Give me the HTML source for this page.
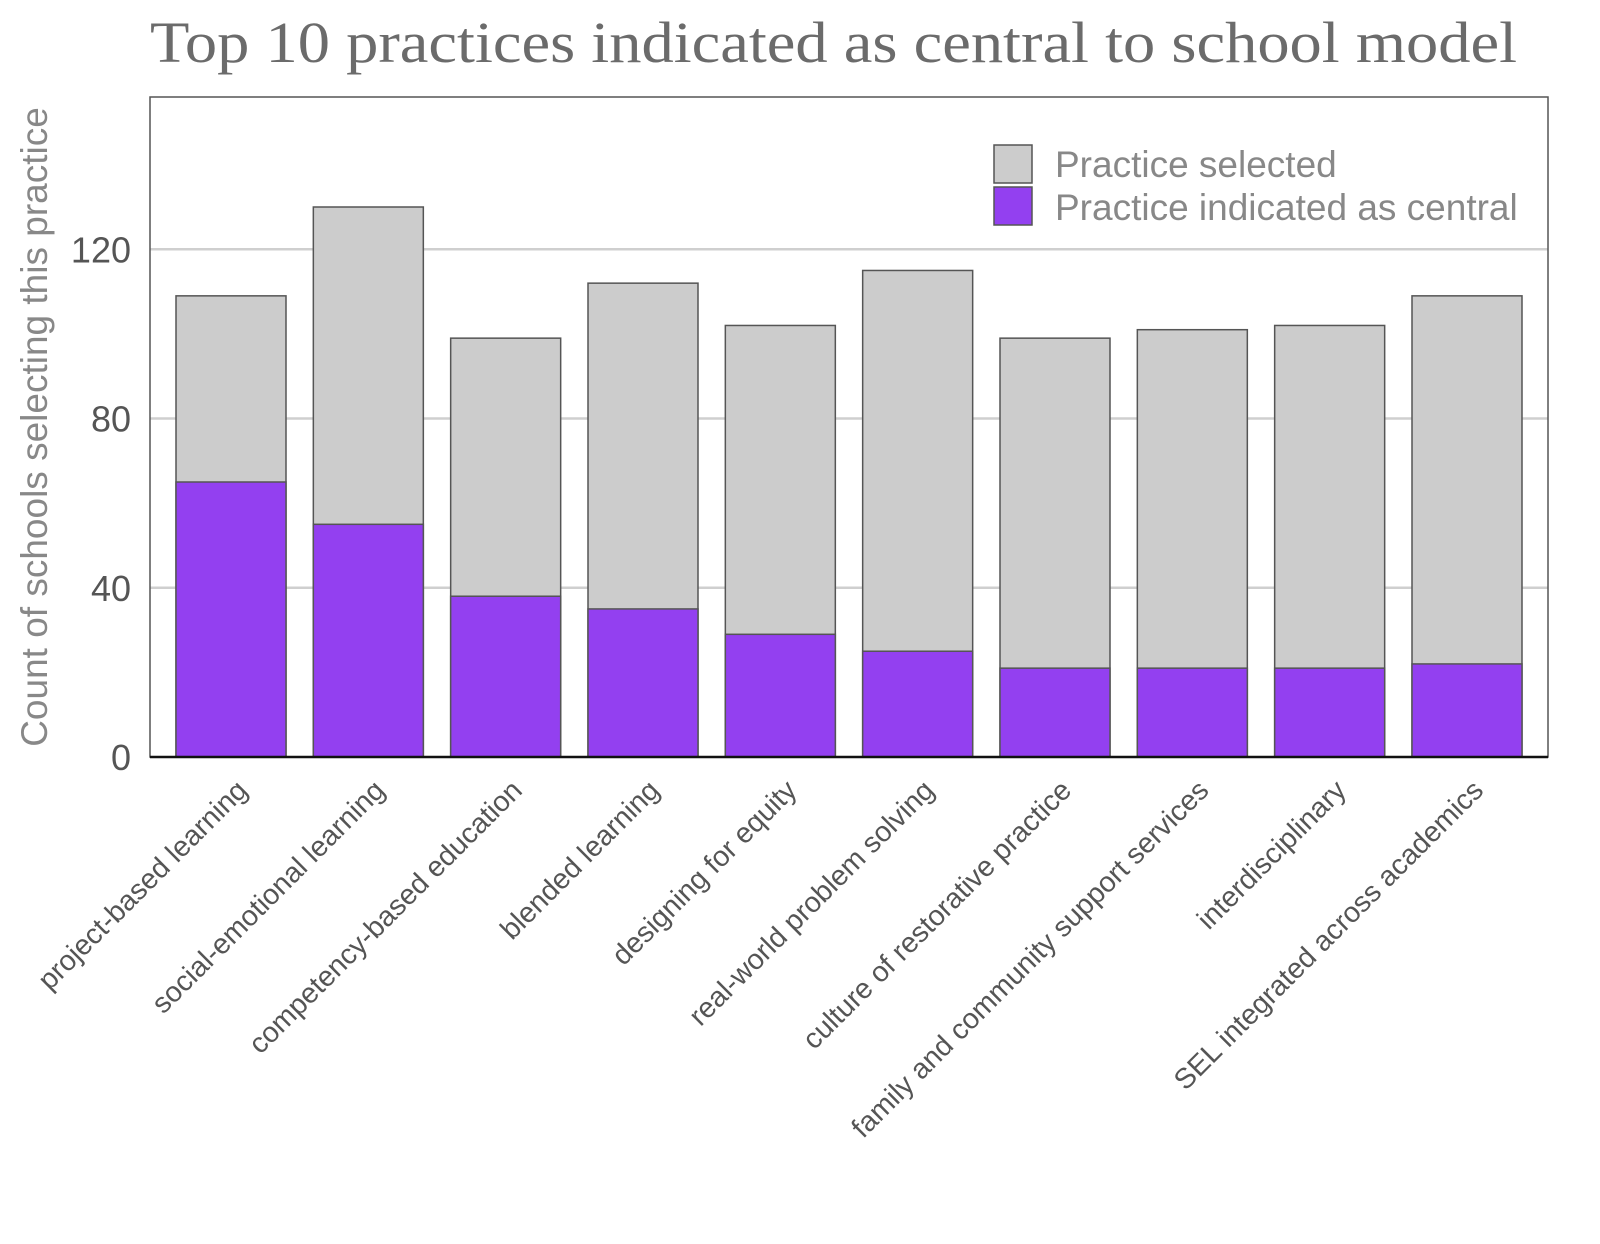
<!DOCTYPE html>
<html><head><meta charset="utf-8"><style>
html,body{margin:0;padding:0;background:#fff;}
svg{display:block;}
</style></head><body>
<svg id="chart" width="1600" height="1244" viewBox="0 0 1600 1244" xmlns="http://www.w3.org/2000/svg">
<text x="150" y="62" textLength="1367" lengthAdjust="spacingAndGlyphs" font-family="Liberation Serif, serif" font-size="58" fill="#6b6b6b">Top 10 practices indicated as central to school model</text>
<g id="grid"></g>
<g id="bars"></g>
<rect x="150" y="97" width="1398" height="660" fill="none" stroke="#555" stroke-width="1.5"/>
<line x1="150" y1="757" x2="1548" y2="757" stroke="#111" stroke-width="2.5"/>
<g id="yticks"></g>
<g id="xlabels"></g>
<text transform="translate(47,427) rotate(-90)" text-anchor="middle" font-family="Liberation Sans, sans-serif" font-size="37" fill="#888">Count of schools selecting this practice</text>
<g>
<rect x="994" y="145" width="38" height="38" fill="#cccccc" stroke="#555" stroke-width="1.5"/>
<text x="1055" y="177" font-family="Liberation Sans, sans-serif" font-size="37" fill="#888">Practice selected</text>
<rect x="994" y="187" width="38" height="38" fill="#9340f0" stroke="#555" stroke-width="1.5"/>
<text x="1055" y="220" font-family="Liberation Sans, sans-serif" font-size="37" fill="#888">Practice indicated as central</text>
</g>
</svg>
<script>
const categories = ["project-based learning","social-emotional learning","competency-based education","blended learning","designing for equity","real-world problem solving","culture of restorative practice","family and community support services","interdisciplinary","SEL integrated across academics"];
const selectedValues = [109,130,99,112,102,115,99,101,102,109];
const centralValues = [65,55,38,35,29,25,21,21,21,22];
const yTicks = [0,40,80,120];

const NS = "http://www.w3.org/2000/svg";
const plotL = 150, plotR = 1548, plotT = 97, plotB = 757, yMax = 156;
const pad = 26, barW = 110;
const step = (plotR - plotL - 2*pad - barW) / (categories.length - 1);
function y(v){ return plotB - v / yMax * (plotB - plotT); }
function xLeft(i){ return plotL + pad + i * step; }
function mk(tag, attrs, parent){ const e = document.createElementNS(NS, tag); for (const k in attrs) e.setAttribute(k, attrs[k]); parent.appendChild(e); return e; }

const grid = document.getElementById('grid');
const yt = document.getElementById('yticks');
yTicks.forEach(t => {
  if (t > 0) {
    const l = mk('line', {x1: plotL, x2: plotR, y1: y(t), y2: y(t), stroke: '#cfcfcf', 'stroke-width': 2.5}, grid);
    
    
  }
  const tx = mk('text', {x: 131, y: y(t) + 13, 'text-anchor': 'end', 'font-family': 'Liberation Sans, sans-serif', 'font-size': 36, fill: '#555'}, yt);
  tx.textContent = t;
  
  
});

const bars = document.getElementById('bars');
const xl = document.getElementById('xlabels');
categories.forEach((c, i) => {
  const x0 = xLeft(i);
  const r1 = mk('rect', {x: x0, y: y(selectedValues[i]), width: barW, height: plotB - y(selectedValues[i]), fill: '#cccccc', stroke: '#555', 'stroke-width': 1.5}, bars);
  
  
  const r2 = mk('rect', {x: x0, y: y(centralValues[i]), width: barW, height: plotB - y(centralValues[i]), fill: '#9340f0', stroke: '#555', 'stroke-width': 1.5}, bars);
  
  
  const cx = x0 + barW / 2 + 18;
  const t = mk('text', {transform: 'translate(' + cx + ',792) rotate(-45)', 'text-anchor': 'end', 'font-family': 'Liberation Sans, sans-serif', 'font-size': 28.5, fill: '#555'}, xl);
  t.textContent = c;
  
  
});
</script>
</body></html>
